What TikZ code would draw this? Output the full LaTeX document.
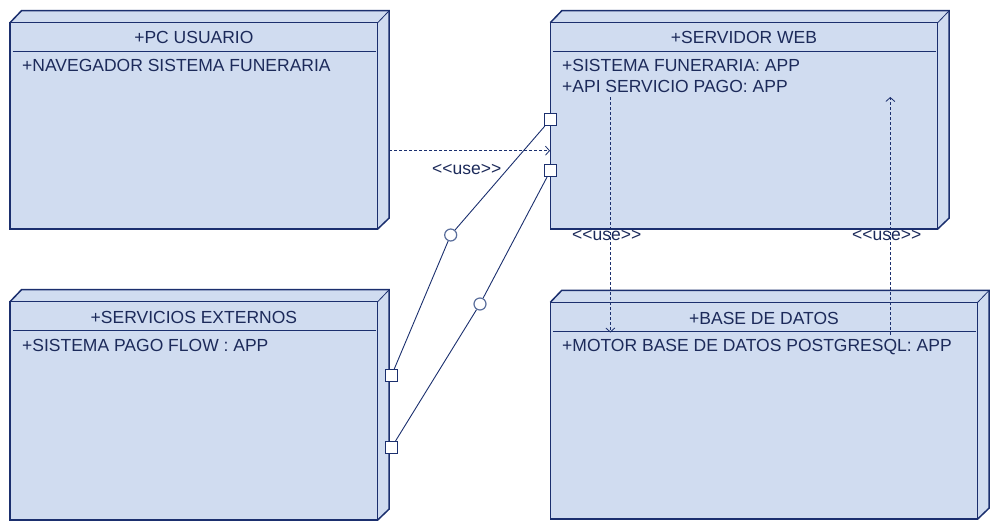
\documentclass[tikz,border=0pt]{standalone}
\usepackage{fontspec}
\setmainfont{Liberation Sans}
\usetikzlibrary{arrows.meta,backgrounds}
\definecolor{navy}{HTML}{1B2F6E}
\definecolor{boxfill}{HTML}{D0DCF0}
\definecolor{txtc}{HTML}{1C2A5A}
\definecolor{ringc}{HTML}{5B6F9C}
\newcommand\ustr{<\kern0pt<use>\kern0pt>}
\newcommand\umlbox[6]{% name, x1, y1, x2, y2, separator y
  \fill[boxfill] (#2,#3) -- (#2+11.5,#3-12) -- (#4+11.5,#3-12) -- (#4+11.5,#5-11) -- (#4,#5) -- (#2,#5) -- cycle;
  \draw[navy, line width=1.5pt, line join=miter] (#2,#3) -- (#2+11.5,#3-12) -- (#4+11.5,#3-12) -- (#4+11.5,#5-11) -- (#4,#5);
  \draw[navy, line width=0.8pt] (#4,#3) -- (#4+11.5,#3-12);
  \node[face, anchor=north west, minimum width={(#4-#2)*1pt}, minimum height={(#5-#3)*1pt}] (#1) at (#2,#3) {};
  \draw[navy, line width=1pt] (#2+2.5,#6) -- (#4-2,#6);
}
\tikzset{
  face/.style={draw=navy, fill=boxfill, line width=1.5pt, inner sep=0pt, outer sep=0pt},
  txt/.style={text=txtc, inner sep=0pt, font=\fontsize{17.5}{20}\selectfont},
  ttl/.style={txt, anchor=base},
  attr/.style={txt, anchor=base west},
  lbl/.style={txt, anchor=base},
  port/.style={draw=navy, fill=white, line width=1.2pt, minimum size=12pt, inner sep=0pt},
  ring/.style={circle, draw=ringc, fill=white, line width=1.2pt, minimum size=12pt, inner sep=0pt},
  conn/.style={draw=navy, line width=0.9pt},
  dep/.style={draw=navy, line width=0.8pt, dash pattern=on 3pt off 2pt, -{Straight Barb[length=4pt,width=9pt]}},
}
\begin{document}
\begin{tikzpicture}[x=1pt, y=-1pt]
\useasboundingbox (0,0) rectangle (1001,532);
% boxes
\umlbox{pc}{10}{22.7}{377.7}{229}{51.7}
\umlbox{web}{550.3}{22.7}{937.7}{229}{51.7}
\umlbox{ext}{10}{301.7}{377.7}{520}{330.7}
\umlbox{db}{550.3}{302.3}{977.7}{519}{331}
% texts
\node[ttl] (pct) at (193.9,43.3) {+PC USUARIO};
\node[attr] (pca) at (22,71.7) {+NAVEGADOR SISTEMA FUNERARIA};
\node[ttl] (webt) at (744,43.3) {+SERVIDOR WEB};
\node[attr] (weba) at (562,71.7) {+SISTEMA FUNERARIA: APP};
\node[attr] (webb) at (562,92.3) {+API SERVICIO PAGO: APP};
\node[ttl] (extt) at (193.9,323.3) {+SERVICIOS EXTERNOS};
\node[attr] (exta) at (22,351) {+SISTEMA PAGO FLOW : APP};
\node[ttl] (dbt) at (764,324) {+BASE DE DATOS};
\node[attr] (dba) at (562,351.7) {+MOTOR BASE DE DATOS POSTGRESQL: APP};
% dependencies
\coordinate (pcR) at (389.3,150.7);
\coordinate (webL) at (550,150.7);
\draw[dep] (pcR) -- (webL);
\node[lbl] (u1) at (466.7,175) {\ustr};
\coordinate (w1) at (610.3,97);
\coordinate (d1) at (610.3,332.5);
\draw[dep] (w1) -- (d1);
\node[lbl] (u2) at (606.7,240.5) {\ustr};
\coordinate (d2) at (890.3,335);
\coordinate (w2) at (890.3,97);
\draw[dep] (d2) -- (w2);
\node[lbl] (u3) at (886.7,240) {\ustr};
% ports and assembly lines
\node[port] (wp1) at (550.5,119.5) {};
\node[port] (wp2) at (550.5,170.5) {};
\node[port] (ep1) at (391.5,375.5) {};
\node[port] (ep2) at (391.5,447.5) {};
\node[ring] (r1) at (450.7,235) {};
\node[ring] (r2) at (480,304) {};
\begin{pgfonlayer}{background}
\draw[conn] (wp1) -- (r1) -- (ep1);
\draw[conn] (wp2) -- (r2) -- (ep2);
\end{pgfonlayer}
\end{tikzpicture}
\end{document}
